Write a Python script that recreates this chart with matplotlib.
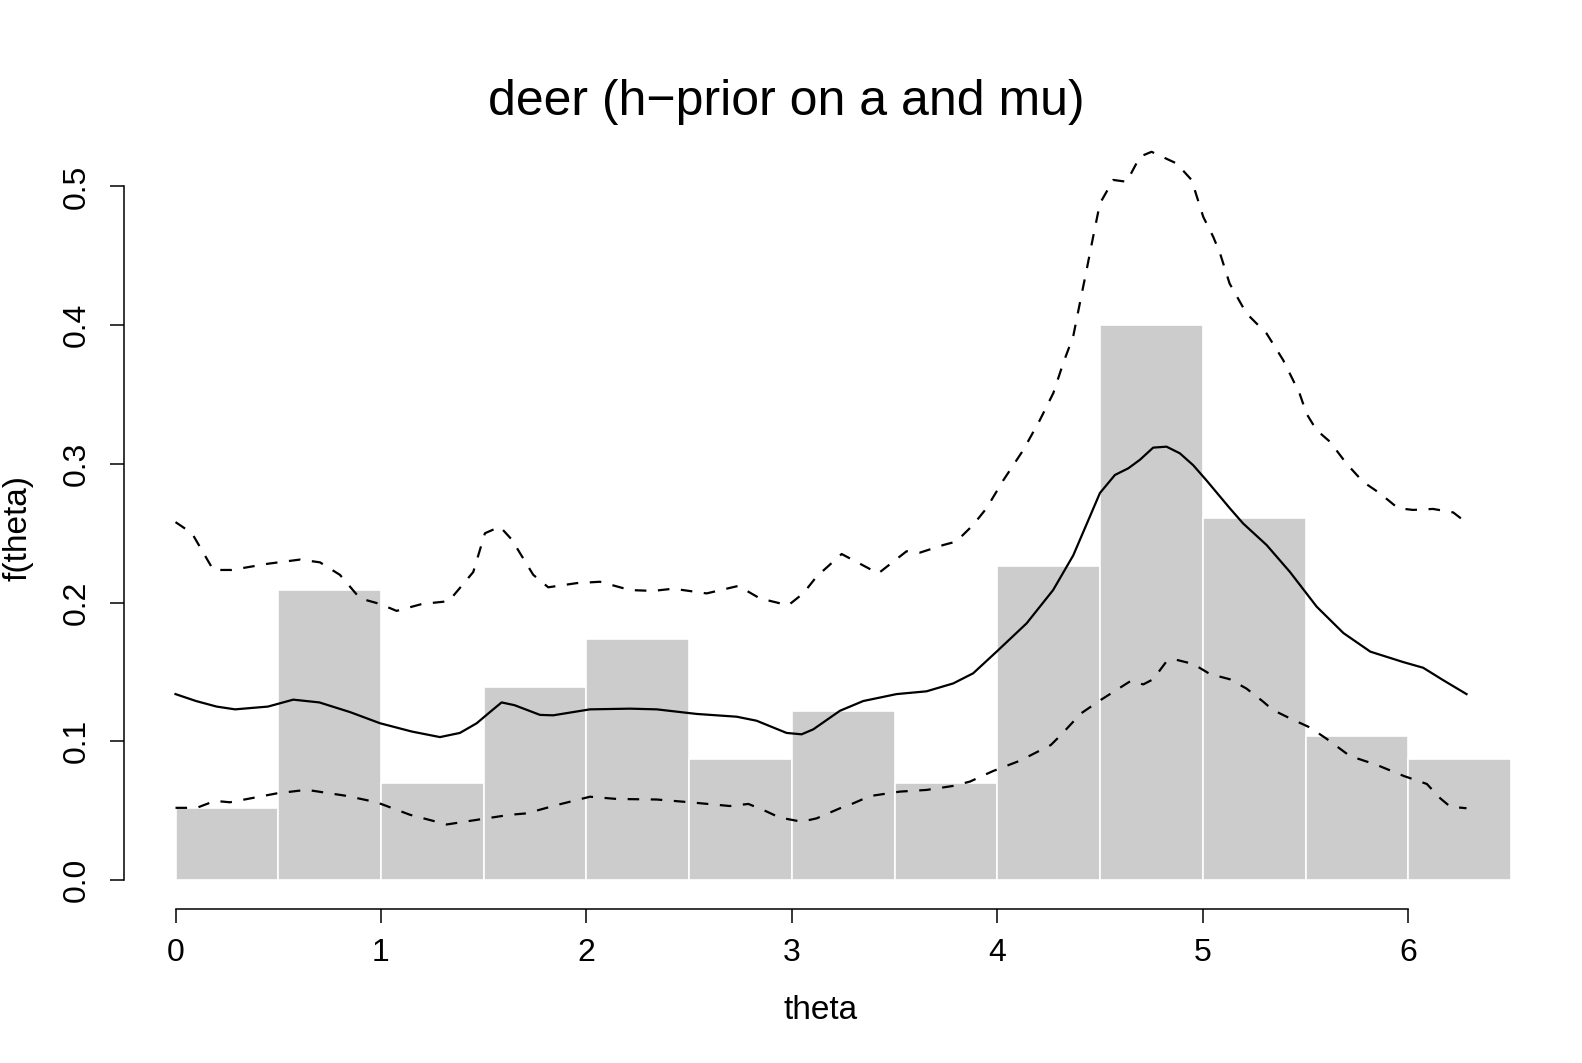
import numpy as np
import matplotlib
matplotlib.use("Agg")
import matplotlib.pyplot as plt

plt.rcParams['font.family'] = ['Liberation Sans', 'DejaVu Sans']

# histogram (density), bins of width 0.5 from 0 to 6.5
bin_left = [0.0, 0.5, 1.0, 1.5, 2.0, 2.5, 3.0, 3.5, 4.0, 4.5, 5.0, 5.5, 6.0]
bin_dens = [0.052, 0.209, 0.070, 0.139, 0.174, 0.087, 0.122, 0.070, 0.226, 0.400, 0.261, 0.104, 0.087]

# posterior mean density (solid)
mid_theta = [0.00, 0.10, 0.20, 0.29, 0.45, 0.573, 0.70, 0.85, 0.995, 1.15, 1.287, 1.384, 1.466, 1.53,
             1.587, 1.65, 1.774, 1.838, 2.017, 2.212, 2.342, 2.536, 2.731, 2.828, 2.974, 3.047,
             3.104, 3.234, 3.347, 3.509, 3.655, 3.785, 3.882, 3.996, 4.142, 4.271, 4.369, 4.45,
             4.499, 4.572, 4.637, 4.694, 4.758, 4.823, 4.888, 4.953, 5.018, 5.131, 5.196, 5.31,
             5.424, 5.554, 5.684, 5.815, 5.977, 6.072, 6.17, 6.283]
mid_f = [0.134, 0.129, 0.125, 0.123, 0.125, 0.130, 0.128, 0.121, 0.113, 0.107, 0.103, 0.106, 0.113, 0.121,
         0.128, 0.126, 0.119, 0.1187, 0.123, 0.1235, 0.123, 0.1197, 0.1177, 0.1148, 0.106, 0.105,
         0.1086, 0.122, 0.129, 0.134, 0.136, 0.1417, 0.149, 0.1646, 0.185, 0.209, 0.234, 0.262,
         0.279, 0.292, 0.2968, 0.303, 0.3117, 0.3124, 0.3076, 0.299, 0.288, 0.268, 0.257, 0.2415,
         0.222, 0.197, 0.178, 0.1646, 0.157, 0.153, 0.144, 0.134]

# upper band (dashed)
up_theta = [0.0, 0.08, 0.184, 0.273, 0.45, 0.606, 0.703, 0.80, 0.898, 0.995, 1.076, 1.20, 1.33,
            1.449, 1.506, 1.579, 1.636, 1.741, 1.814, 1.952, 2.066, 2.212, 2.325, 2.422, 2.585,
            2.739, 2.844, 2.982, 3.055, 3.12, 3.242, 3.42, 3.558, 3.623, 3.737, 3.80, 3.882,
            3.947, 4.028, 4.126, 4.207, 4.272, 4.32, 4.369, 4.401, 4.434, 4.466, 4.499, 4.564,
            4.629, 4.694, 4.75, 4.872, 4.945, 5.002, 5.05, 5.083, 5.13, 5.212, 5.31, 5.39, 5.47,
            5.505, 5.553, 5.618, 5.70, 5.78, 5.861, 5.95, 6.023, 6.12, 6.218, 6.283]
up_f = [0.258, 0.250, 0.2235, 0.2235, 0.228, 0.231, 0.229, 0.220, 0.203, 0.199, 0.194, 0.199, 0.201,
        0.222, 0.250, 0.2547, 0.2455, 0.220, 0.211, 0.214, 0.215, 0.209, 0.2084, 0.210, 0.2066,
        0.212, 0.203, 0.198, 0.2066, 0.2187, 0.235, 0.221, 0.237, 0.236, 0.2415, 0.244, 0.256,
        0.268, 0.288, 0.310, 0.3317, 0.351, 0.3725, 0.392, 0.4157, 0.4398, 0.4638, 0.4878, 0.5047,
        0.5034, 0.5215, 0.525, 0.5166, 0.5047, 0.478, 0.4638, 0.452, 0.430, 0.4085, 0.394, 0.375, 0.351,
        0.336, 0.3244, 0.316, 0.300, 0.287, 0.2788, 0.268, 0.2668, 0.2675, 0.265, 0.2576]

# lower band (dashed)
lo_theta = [0.0, 0.103, 0.192, 0.265, 0.492, 0.638, 0.833, 0.979, 1.141, 1.32, 1.482, 1.628, 1.709,
            1.855, 2.017, 2.147, 2.342, 2.504, 2.698, 2.788, 2.86, 2.94, 3.047, 3.12, 3.234, 3.298,
            3.38, 3.526, 3.655, 3.785, 3.866, 3.98, 4.11, 4.26, 4.309, 4.406, 4.503, 4.649, 4.71,
            4.758, 4.82, 4.864, 4.953, 5.034, 5.131, 5.212, 5.293, 5.34, 5.424, 5.52, 5.60, 5.715,
            5.845, 5.977, 6.09, 6.155, 6.204, 6.283]
lo_f = [0.052, 0.052, 0.057, 0.056, 0.0624, 0.065, 0.0606, 0.056, 0.047, 0.040, 0.0437, 0.047, 0.048,
        0.054, 0.060, 0.0584, 0.058, 0.056, 0.0533, 0.0548, 0.0505, 0.045, 0.042, 0.0444, 0.0517, 0.0552,
        0.0605, 0.0637, 0.0649, 0.0678, 0.0709, 0.0786, 0.086, 0.0973, 0.1045, 0.120, 0.1298, 0.1435, 0.141,
        0.1447, 0.157, 0.159, 0.1557, 0.1485, 0.1447, 0.138, 0.1286, 0.1226, 0.1165, 0.110, 0.102, 0.0894,
        0.083, 0.075, 0.0692, 0.0589, 0.0528, 0.0517]

fig = plt.figure(figsize=(15.82, 10.63), dpi=100)
ax = fig.add_axes([0.0783, 0.1448, 0.8813, 0.7398])

ax.bar(bin_left, bin_dens, width=0.5, align='edge', color='#cccccc',
       edgecolor='white', linewidth=1.2)
ax.plot(mid_theta, mid_f, color='black', lw=1.6)
ax.plot(up_theta, up_f, color='black', lw=1.6, dashes=(5.2, 5.2))
ax.plot(lo_theta, lo_f, color='black', lw=1.6, dashes=(5.2, 5.2))

ax.set_xlim(-0.2513, 6.534)
ax.set_ylim(-0.021, 0.546)

for s in ['top', 'right']:
    ax.spines[s].set_visible(False)
ax.spines['left'].set_bounds(0, 0.5)
ax.spines['bottom'].set_bounds(0, 6)
for s in ['left', 'bottom']:
    ax.spines[s].set_linewidth(1.1)

ax.set_xticks(range(7))
ax.set_xticklabels([str(i) for i in range(7)])
ax.set_yticks([0, 0.1, 0.2, 0.3, 0.4, 0.5])
ax.set_yticklabels(['0.0', '0.1', '0.2', '0.3', '0.4', '0.5'])
ax.tick_params(direction='out', length=10, width=1.1, labelsize=23)
ax.tick_params(axis='x', pad=11)
ax.tick_params(axis='y', pad=13)
for lab in ax.get_yticklabels():
    lab.set_rotation(90)
    lab.set_va('center')

fig.text(0.519, 0.049, 'theta', ha='center', va='center', fontsize=24)
fig.text(0.0114, 0.503, 'f(theta)', ha='center', va='center', fontsize=24, rotation=90)
fig.text(0.497, 0.892, 'deer (h\u2212prior on a and mu)', ha='center', va='baseline', fontsize=36)

fig.savefig('out.png', dpi=100)
